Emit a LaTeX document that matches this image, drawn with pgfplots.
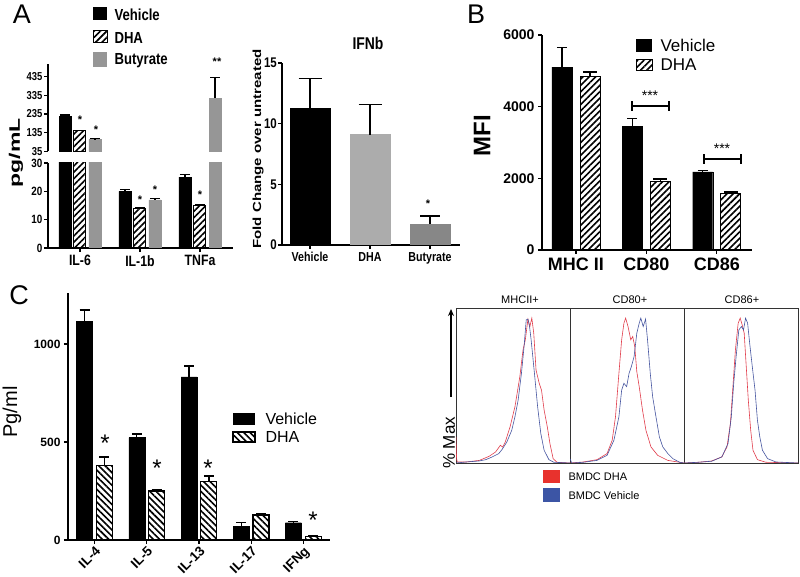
\documentclass[border=0pt]{standalone}
\usepackage{pgfplots}
\pgfplotsset{compat=1.18}
\usepackage{graphicx}
\usepackage{fontspec}
\setmainfont{Liberation Sans}
\newfontfamily\cond[FakeStretch=0.82]{Liberation Sans}
\usetikzlibrary{patterns.meta,arrows.meta}
\newcommand{\fs}[1]{\fontsize{#1}{#1}\selectfont}
\definecolor{butgray}{RGB}{150,150,150}
\definecolor{dhagray}{RGB}{172,172,172}
\definecolor{butgrayb}{RGB}{135,135,135}
\definecolor{hred}{RGB}{225,60,75}
\definecolor{hblue}{RGB}{70,85,160}
\definecolor{lred}{RGB}{232,50,45}
\definecolor{lblue}{RGB}{60,85,165}
\tikzset{
  hatchA/.style={pattern={Lines[angle=45,distance=4.5pt,line width=1.6pt]}, pattern color=black},
  hatchC/.style={pattern={Lines[angle=-45,distance=4.5pt,line width=1.6pt]}, pattern color=black},
}
\pgfplotsset{
  gp/.style={scale only axis, axis x line*=bottom, axis y line*=left,
    axis line style={-, line width=1.5pt, black}, tick align=outside,
    major tick length=4pt, tick style={line width=1.3pt, black},
    /pgf/number format/assume math mode=true,
    /pgf/number format/set thousands separator={},
    ymin=0, clip mode=individual},
  eb/.style={error bars/.cd, y dir=plus, y explicit, error mark=|,
    error bar style={line width=1.3pt, black, solid},
    error mark options={line width=1.3pt, mark size=#1, black, solid}},
  hist/.style={scale only axis, width=114pt, height=155pt, anchor=south west,
    xmin=0, xmax=100, ymin=0, ymax=107, ticks=none,
    axis line style={line width=0.6pt, black!80}},
}
\begin{document}
\begin{tikzpicture}
\fill[white] (0pt,0pt) rectangle (800pt,577pt);
\path[use as bounding box] (0pt,0pt) rectangle (800pt,577pt);

%% ---------- Panel A, left: lower segment ----------
\begin{axis}[gp, width=185pt, height=85pt, at={(48pt,329pt)},
  anchor=south west, xmin=-0.533, xmax=2.55, ymax=30, ytick={0,10,20,30},
  xtick={0,1,2}, xticklabels={IL-6,IL-1b,TNFa},
  yticklabel style={font=\cond\bfseries\fs{12}, inner sep=1.5pt},
  xticklabel style={font=\cond\bfseries\fs{15}}]
\addplot[ybar, bar width=12pt, fill=black, draw=black, eb=5pt]
  coordinates {(-0.25,225) +- (0,5) (0.75,20) +- (0,0.7) (1.75,25) +- (0,1)};
\addplot[ybar, bar width=12pt, draw=black, line width=1pt, hatchA, eb=5pt]
  coordinates {(0,145) +- (0,3) (1,14) +- (0,0.3) (2,15) +- (0,0.3)};
\addplot[ybar, bar width=12pt, fill=butgray, draw=butgray, eb=5pt]
  coordinates {(0.25,100) +- (0,4) (1.25,17) +- (0,0.5) (2.25,320) +- (0,110)};
\end{axis}
%% ---------- Panel A, left: upper segment (values above the break) ----------
\begin{axis}[gp, width=185pt, height=87.2pt, at={(48pt,425.5pt)},
  anchor=south west, xmin=-0.533, xmax=2.55, ymin=35, ymax=500,
  axis x line=none, ytick={35,135,235,335,435},
  yticklabel style={font=\cond\bfseries\fs{11.5}, inner sep=1.5pt}]
\addplot[ybar, bar width=12pt, fill=black, draw=black, eb=5pt]
  coordinates {(-0.25,225) +- (0,5)};
\addplot[ybar, bar width=12pt, draw=black, line width=1pt, hatchA, eb=5pt]
  coordinates {(0,145) +- (0,3)};
\addplot[ybar, bar width=12pt, fill=butgray, draw=butgray, eb=5pt]
  coordinates {(0.25,100) +- (0,4) (2.25,320) +- (0,110)};
\end{axis}

%% ---------- Panel A, right: IFNb ----------
\begin{axis}[gp, width=178pt, height=182pt, at={(282pt,332pt)},
  anchor=south west, xmin=-0.467, xmax=2.5, ymax=15, ytick={0,5,10,15},
  xtick={0,1,2}, xticklabels={Vehicle,DHA,Butyrate},
  yticklabel style={font=\cond\bfseries\fs{14}, inner sep=1pt},
  xticklabel style={font=\cond\bfseries\fs{13}}]
\addplot[ybar, bar width=40pt, fill=black, draw=black, eb=11.5pt]
  coordinates {(0,11.3) +- (0,2.4)};
\addplot[ybar, bar width=40pt, fill=dhagray, draw=dhagray, eb=11.5pt]
  coordinates {(1,9.1) +- (0,2.5)};
\addplot[ybar, bar width=40pt, fill=butgrayb, draw=butgrayb, eb=10pt]
  coordinates {(2,1.75) +- (0,0.65)};
\end{axis}

%% ---------- Panel B ----------
\begin{axis}[gp, width=210pt, height=215pt, at={(542pt,327pt)},
  anchor=south west, xmin=-0.482, xmax=2.5, ymax=6000, ytick={0,2000,4000,6000},
  xtick={0,1,2}, xticklabels={MHC II,CD80,CD86},
  yticklabel style={font=\bfseries\fs{14}},
  xticklabel style={font=\bfseries\fs{18}}]
\addplot[ybar, bar width=20pt, fill=black, draw=black, eb=5pt]
  coordinates {(-0.2,5100) +- (0,560) (0.8,3460) +- (0,200) (1.8,2180) +- (0,30)};
\addplot[ybar, bar width=20pt, draw=black, line width=1pt, hatchA, eb=7pt]
  coordinates {(0.2,4830) +- (0,140) (1.2,1900) +- (0,80) (2.2,1590) +- (0,30)};
\end{axis}

%% ---------- Panel C ----------
\begin{axis}[gp, width=262pt, height=247pt, at={(68pt,37pt)},
  anchor=south west, xmin=-0.508, xmax=4.51, ymax=1260, ytick={0,500,1000},
  xtick={0,1,2,3,4}, xticklabels={IL-4,IL-5,IL-13,IL-17,IFNg},
  yticklabel style={font=\bfseries\fs{12}},
  xticklabel style={font=\bfseries\fs{13.5}, rotate=45, anchor=north east, inner sep=1pt}]
\addplot[ybar, bar width=16pt, fill=black, draw=black, eb=5pt]
  coordinates {(-0.19,1117) +- (0,56) (0.81,522) +- (0,19) (1.81,832) +- (0,56) (2.81,71) +- (0,17) (3.81,88) +- (0,6)};
\addplot[ybar, bar width=16pt, draw=black, line width=1.2pt, hatchC, eb=5pt]
  coordinates {(0.19,379) +- (0,44) (1.19,250) +- (0,8) (2.19,298) +- (0,29) (3.19,128) +- (0,8) (4.19,17) +- (0,3)};
\end{axis}

%% ---------- Histograms ----------
\begin{axis}[hist, at={(456pt,114pt)}]
\addplot[hred, line width=0.6pt] coordinates {(0,18) (0.5,3) (1.1,0.7) (9.1,0.7) (20.5,1.8) (29,4.6) (34.7,7.6) (38.9,12.2) (41,11) (43.2,14.5) (47.4,24.9) (51.7,38.8) (56,59.6) (58.8,78.1) (60.8,85) (63.1,99.3) (64.8,94.2) (66.5,100) (68.2,89.6) (70.2,64.2) (73,55) (75,50.3) (77.3,36.5) (80.1,24.9) (82.4,13.4) (85.2,3) (88.6,0.5) (100,0)};
\addplot[hblue, line width=0.6pt] coordinates {(0,0) (9.1,0.7) (20.5,1.4) (26.1,2.3) (31.8,4.2) (37.5,6.5) (40.3,9.2) (44.6,14.5) (48.9,22.6) (51.7,31.9) (54.5,43.4) (57.4,61.9) (59.7,80.4) (61.6,98.8) (63.1,99.3) (64.5,94.2) (65.9,85) (68.8,61.9) (71.6,38.8) (74.4,20.3) (77.3,8.8) (81.5,2.3) (85.8,0.5) (100,0)};
\end{axis}
\begin{axis}[hist, at={(570pt,114pt)}]
\addplot[hred, line width=0.6pt] coordinates {(0,0) (11.8,0.7) (23.7,2.3) (32.5,6.5) (37,15.7) (39.9,31.9) (42.9,61.9) (45.3,85) (47.3,96.5) (48.8,100) (50.9,94.2) (53.3,85) (55,87.3) (56.8,80.4) (58.6,63) (60.7,52.7) (63.6,36.5) (66.6,22.6) (71,11.1) (76.9,5.3) (85.8,1.8) (100,0)};
\addplot[hblue, line width=0.6pt] coordinates {(0,3) (1.5,0) (11.8,0.5) (23.7,1.8) (32.5,5.3) (38.5,15.7) (42.9,31.9) (45.3,50.3) (47.3,55) (49.7,52.7) (51.8,61.9) (53.8,66.5) (56.2,73.4) (58.6,89.6) (60.7,96.5) (62.1,100) (64.2,94.2) (66.3,99.3) (68,85) (70.4,61.9) (72.5,45.7) (75.4,31.9) (78.4,18) (81.4,11.1) (85.8,6.5) (90.2,3) (96.2,0.5) (100,0)};
\end{axis}
\begin{axis}[hist, at={(684pt,114pt)}]
\addplot[hred, line width=0.6pt] coordinates {(0,0) (12.5,0.5) (24.3,1.4) (33.2,4.2) (37.7,11.1) (40.7,27.3) (42.7,50.3) (45.1,78.1) (47.5,96.5) (49.3,100) (51,95.4) (52.8,89.6) (54.6,66.5) (56.4,43.4) (58.5,22.6) (60.5,8.8) (64.4,2.3) (71.8,0.5) (100,0)};
\addplot[hblue, line width=0.6pt] coordinates {(0,0) (12.5,0.5) (24.3,1.2) (33.2,4.2) (38.6,13.4) (41.5,31.9) (43.6,55) (45.7,73.4) (48.1,91.9) (50.4,94.2) (52.2,91.9) (54,100) (55.8,96.5) (57.6,82.7) (59.9,66.5) (62.3,50.3) (64.4,29.6) (66.5,18) (68.8,8.8) (73.3,3) (80.7,0.7) (100,0)};
\end{axis}

%% ---------- Annotations ----------
\begin{scope}[x=1pt, y=1pt]
% panel letters
\node[font=\fs{27}] at (22,563) {A};
\node[font=\fs{27}] at (476,563) {B};
\node[font=\fs{27}] at (19,282) {C};
% Panel A legend
\fill[black] (93,557) rectangle (107,570);
\fill[white] (93,534) rectangle (107,546);
\fill[hatchA] (93,534) rectangle (107,546);
\draw[line width=1pt] (93,534) rectangle (107,546);
\fill[butgray] (93,510) rectangle (107,525);
\node[anchor=west, font=\cond\bfseries\fs{16}] at (111,562) {Vehicle};
\node[anchor=west, font=\cond\bfseries\fs{16}] at (111,539) {DHA};
\node[anchor=west, font=\cond\bfseries\fs{16}] at (111,516) {Butyrate};
\node[rotate=90, inner sep=0pt] at (16,424) {\scalebox{1}[0.66]{\bfseries\fs{23}pg/mL}};
% Panel A stars
\node[font=\bfseries\fs{11}] at (80,457) {*};
\node[font=\bfseries\fs{11}] at (96,447) {*};
\node[font=\bfseries\fs{11}] at (140,377) {*};
\node[font=\bfseries\fs{11}] at (155,387) {*};
\node[font=\bfseries\fs{11}] at (200,382) {*};
\node[font=\bfseries\fs{11}] at (217,515) {**};
% IFNb
\node[font=\cond\bfseries\fs{17}] at (368,534) {IFNb};
\node[rotate=90, inner sep=0pt] at (258,428) {\scalebox{1}[0.78]{\bfseries\fs{15}Fold Change over untreated}};
\node[font=\bfseries\fs{11}] at (428,373) {*};
% Panel B
\node[rotate=90, font=\bfseries\fs{24}] at (482,441) {MFI};
\fill[black] (636,525) rectangle (652,538);
\fill[white] (636,506) rectangle (652,517);
\fill[hatchA] (636,506) rectangle (652,517);
\draw[line width=1pt] (636,506) rectangle (652,517);
\node[anchor=west, font=\fs{17}] at (657,532) {Vehicle};
\node[anchor=west, font=\fs{17}] at (657,512) {DHA};
\draw[line width=1.4pt] (632,471) -- (669,471);
\draw[line width=1.4pt] (632,466) -- (632,476);
\draw[line width=1.4pt] (669,466) -- (669,476);
\node[font=\fs{14}] at (650,481) {***};
\draw[line width=1.4pt] (704,418) -- (741,418);
\draw[line width=1.4pt] (704,413) -- (704,423);
\draw[line width=1.4pt] (741,413) -- (741,423);
\node[font=\fs{14}] at (722,428) {***};
% Panel C
\node[rotate=90, font=\fs{20}] at (12,165) {Pg/ml};
\fill[black] (233,152) rectangle (255,164);
\fill[white] (233,135) rectangle (255,145);
\fill[hatchC] (233,135) rectangle (255,145);
\draw[line width=1.2pt] (233,135) rectangle (255,145);
\node[anchor=west, font=\fs{16}] at (262,158) {Vehicle};
\node[anchor=west, font=\fs{16}] at (262,140) {DHA};
\node[font=\fs{24}] at (105,134) {*};
\node[font=\fs{24}] at (157,109) {*};
\node[font=\fs{24}] at (208,109) {*};
\node[font=\fs{24}] at (313,57) {*};
% Histogram labels
\node[font=\fs{11}] at (520,277) {MHCII+};
\node[font=\fs{11}] at (630,277) {CD80+};
\node[font=\fs{11}] at (742,277) {CD86+};
\node[rotate=90, font=\fs{17}] at (449,134) {\% Max};
\draw[line width=1.6pt, -{Stealth[length=7pt,width=6pt]}] (451,180) -- (451,268);
\fill[lred] (543,94) rectangle (560,107);
\fill[lblue] (543,75) rectangle (560,89);
\node[anchor=west, font=\fs{11}] at (565,100) {BMDC DHA};
\node[anchor=west, font=\fs{11}] at (565,81) {BMDC Vehicle};
\end{scope}
\end{tikzpicture}
\end{document}
